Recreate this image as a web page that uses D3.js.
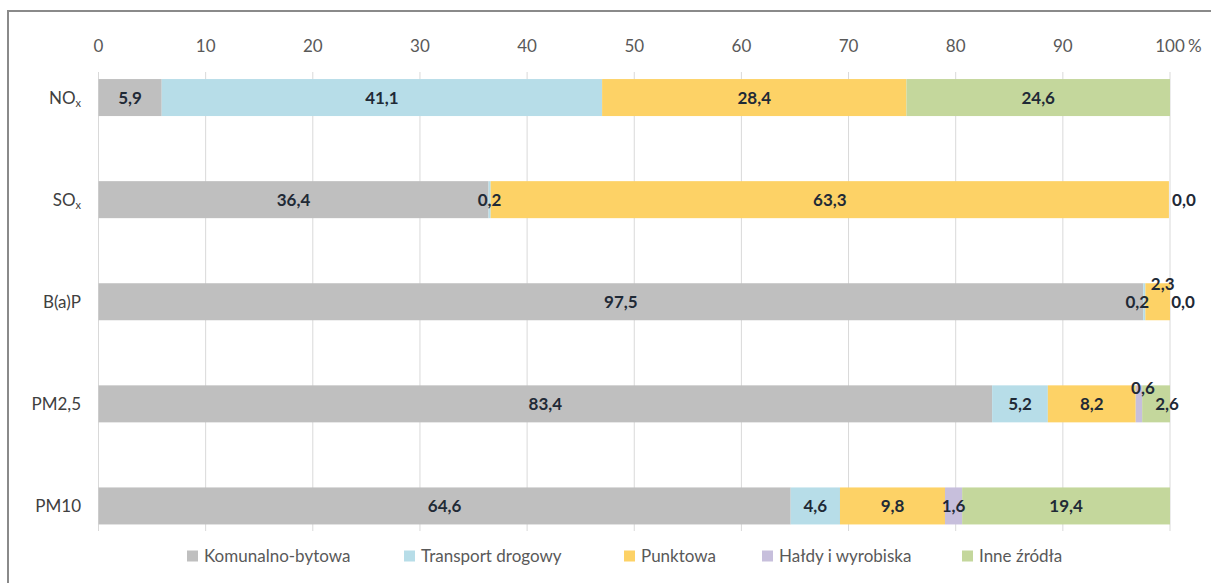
<!DOCTYPE html>
<html>
<head>
<meta charset="utf-8">
<script src="https://cdn.jsdelivr.net/npm/d3@7"></script>
<style>
  body { margin: 0; background: #fff; }
  text { font-family: Lato, "Open Sans", sans-serif; }
</style>
</head>
<body>
<div class="container"></div>
<script>
// data
var pollutants = ['NOx', 'SOx', 'B(a)P', 'PM2,5', 'PM10'];
var sources = ['Komunalno-bytowa', 'Transport drogowy', 'Punktowa', 'Hałdy i wyrobiska', 'Inne źródła'];
var komunalno = [5.9, 36.4, 97.5, 83.4, 64.6];
var transport = [41.1, 0.2, 0.2, 5.2, 4.6];
var punktowa = [28.4, 63.3, 2.3, 8.2, 9.8];
var haldy = [null, null, null, 0.6, 1.6];
var inne = [24.6, 0.0, 0.0, 2.6, 19.4];
var xTicks = [0, 10, 20, 30, 40, 50, 60, 70, 80, 90, 100];

var colors = ['#bfbfbf', '#b7dde8', '#fdd266', '#c7bfdc', '#c4d79c'];
var seriesVals = [komunalno, transport, punktowa, haldy, inne];

// small labels were moved by hand in the original
var nudge = {
  '1-4': [15, 0],
  '2-1': [-7, 0],
  '2-2': [5, -18],
  '2-4': [13, 0],
  '3-3': [4, -16],
  '3-4': [11, 0]
};

var W = 1211, H = 583;
var svg = d3.select('.container').append('svg')
  .attr('width', W)
  .attr('height', H);

// frame (only top & left visible)
svg.append('line').attr('x1', 7).attr('x2', W).attr('y1', 11).attr('y2', 11)
  .attr('stroke', '#8a8a8a').attr('stroke-width', 2);
svg.append('line').attr('x1', 8).attr('x2', 8).attr('y1', 11).attr('y2', H)
  .attr('stroke', '#8a8a8a').attr('stroke-width', 2);

var x = d3.scaleLinear().domain([0, 100]).range([98.5, 1170]);
var y = d3.scaleBand().domain(pollutants).range([28, 575.5]).paddingInner(0.6376).paddingOuter(0.5);

// grid
svg.selectAll('.grid').data(xTicks).enter().append('line')
  .attr('x1', function(d) { return x(d); })
  .attr('x2', function(d) { return x(d); })
  .attr('y1', 72).attr('y2', 531)
  .attr('stroke', '#d9d9d9').attr('stroke-width', 1);

// top axis labels
svg.selectAll('.tick').data(xTicks).enter().append('text')
  .attr('x', function(d) { return x(d); })
  .attr('y', 52)
  .attr('text-anchor', 'middle')
  .attr('font-size', 17)
  .attr('fill', '#595959')
  .text(function(d) { return d; });
svg.append('text').attr('x', x(100) + 18).attr('y', 52)
  .attr('font-size', 17).attr('fill', '#595959').text('%');

// category labels
pollutants.forEach(function(p) {
  var t = svg.append('text')
    .attr('x', 81)
    .attr('y', y(p) + y.bandwidth() / 2 + 6)
    .attr('text-anchor', 'end')
    .attr('font-size', 17)
    .attr('fill', '#404040');
  if (p === 'NOx' || p === 'SOx') {
    t.append('tspan').text(p.slice(0, 2));
    t.append('tspan').attr('font-size', 11).attr('dy', 3).text('x');
  } else {
    t.text(p);
  }
});

// stacked bars
var segs = [];
pollutants.forEach(function(p, i) {
  var acc = 0;
  seriesVals.forEach(function(vals, s) {
    var v = vals[i];
    if (v === null) return;
    segs.push({ p: p, i: i, s: s, v: v, x0: acc, x1: acc + v });
    acc += v;
  });
});

svg.selectAll('.seg').data(segs).enter().append('rect')
  .attr('x', function(d) { return x(d.x0); })
  .attr('y', function(d) { return y(d.p); })
  .attr('width', function(d) { return x(d.x1) - x(d.x0); })
  .attr('height', y.bandwidth())
  .attr('fill', function(d) { return colors[d.s]; });

var fmt = function(v) { return v.toFixed(1).replace('.', ','); };
svg.selectAll('.lbl').data(segs).enter().append('text')
  .attr('x', function(d) { var n = nudge[d.i + '-' + d.s] || [0, 0]; return x((d.x0 + d.x1) / 2) + n[0]; })
  .attr('y', function(d) { var n = nudge[d.i + '-' + d.s] || [0, 0]; return y(d.p) + y.bandwidth() / 2 + 6 + n[1]; })
  .attr('text-anchor', 'middle')
  .attr('font-size', 17)
  .attr('font-weight', 'bold')
  .attr('fill', '#1f2a36')
  .text(function(d) { return fmt(d.v); });

// legend
var legX = [187, 404, 624, 762, 962];
sources.forEach(function(s, i) {
  var g = svg.append('g').attr('transform', 'translate(' + legX[i] + ',556)');
  g.append('rect').attr('x', 0).attr('y', -5.5).attr('width', 11).attr('height', 11).attr('fill', colors[i]);
  g.append('text').attr('x', 17).attr('y', 6).attr('font-size', 17).attr('fill', '#595959').text(s);
});
</script>
</body>
</html>
